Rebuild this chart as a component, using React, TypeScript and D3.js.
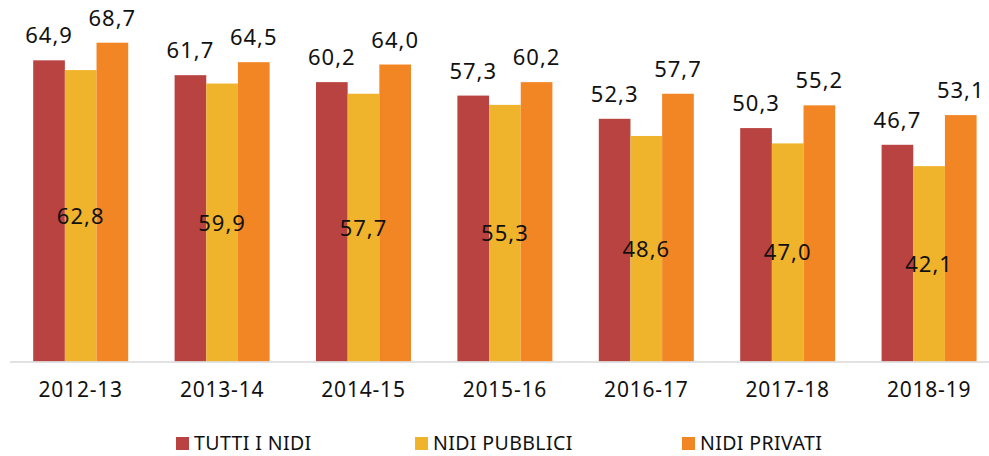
import React, { useEffect, useRef } from 'react'
import * as d3 from 'd3'

const years = ['2012-13', '2013-14', '2014-15', '2015-16', '2016-17', '2017-18', '2018-19']
const seriesNames = ['TUTTI I NIDI', 'NIDI PUBBLICI', 'NIDI PRIVATI']
const tutti = [64.9, 61.7, 60.2, 57.3, 52.3, 50.3, 46.7]
const pubblici = [62.8, 59.9, 57.7, 55.3, 48.6, 47.0, 42.1]
const privati = [68.7, 64.5, 64.0, 60.2, 57.7, 55.2, 53.1]
const colors = ['#B94340', '#F0B42C', '#F28624']

const W = 989
const H = 456
const FONT = '"Noto Sans", sans-serif'

const App = () => {
  const ref = useRef<SVGSVGElement>(null)

  useEffect(() => {
    const svg = d3.select(ref.current)
    svg.selectAll('*').remove()

    const values = [tutti, pubblici, privati]
    const baseY = 361.5
    const x0 = d3.scaleBand().domain(years).range([10, 999.8])
    const x1 = d3.scaleBand().domain(seriesNames).range([0, 95])
    const y = d3.scaleLinear().domain([0, 77.9]).range([baseY, 0])
    const fmt = (v: number) => v.toFixed(1).replace('.', ',')

    const groups = svg.selectAll('g.grp').data(years).join('g')
      .attr('class', 'grp')
      .attr('transform', d => `translate(${x0(d)! + x0.bandwidth() / 2 - 47.5},0)`)

    // bars first, then labels so the inside labels are not hidden
    seriesNames.forEach((s, si) => {
      groups.append('rect')
        .attr('x', x1(s)!)
        .attr('width', x1.bandwidth())
        .attr('y', (_, i) => y(values[si][i]))
        .attr('height', (_, i) => baseY - y(values[si][i]))
        .attr('fill', colors[si])
    })
    seriesNames.forEach((s, si) => {
      groups.append('text')
        .attr('x', x1(s)! + x1.bandwidth() / 2)
        .attr('y', (_, i) => si === 1
          ? (y(values[si][i]) + baseY) / 2 + 8
          : y(values[si][i]) - 17)
        .attr('text-anchor', 'middle')
        .attr('font-family', FONT)
        .attr('font-size', 22)
        .attr('letter-spacing', 1)
        .attr('fill', '#111')
        .text((_, i) => fmt(values[si][i]))
    })

    svg.append('line')
      .attr('x1', 10).attr('x2', W)
      .attr('y1', baseY + 0.5).attr('y2', baseY + 0.5)
      .attr('stroke', '#d9d9d9').attr('stroke-width', 1.5)

    svg.append('g').selectAll('text').data(years).join('text')
      .attr('x', d => x0(d)! + x0.bandwidth() / 2)
      .attr('y', 397)
      .attr('text-anchor', 'middle')
      .attr('font-family', FONT)
      .attr('font-size', 21)
      .attr('letter-spacing', 0.8)
      .attr('fill', '#111')
      .text(d => d)

    const legendX = [176, 415, 682]
    const leg = svg.append('g').selectAll('g').data(seriesNames).join('g')
      .attr('transform', (_, i) => `translate(${legendX[i]},0)`)
    leg.append('rect')
      .attr('x', 0).attr('y', 437).attr('width', 13).attr('height', 13)
      .attr('fill', (_, i) => colors[i])
    leg.append('text')
      .attr('x', 18).attr('y', 450)
      .attr('font-family', FONT)
      .attr('font-size', 19.5)
      .attr('letter-spacing', 0.4)
      .attr('fill', '#111')
      .text(d => d)
  }, [])

  return (
    <svg ref={ref} width={W} height={H}
      style={{ position: 'absolute', left: 0, top: 0, background: '#fff' }} />
  )
}

export default App
